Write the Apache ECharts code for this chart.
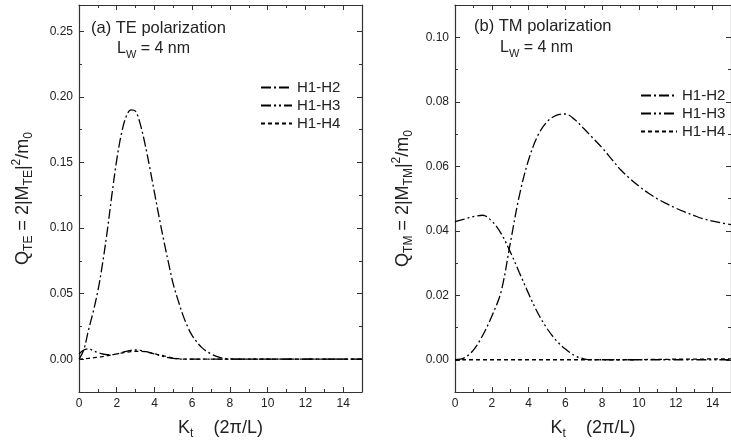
<!DOCTYPE html>
<html><head><meta charset="utf-8">
<script src="https://cdn.jsdelivr.net/npm/echarts@6/dist/echarts.min.js"></script>
<style>html,body{margin:0;padding:0;background:#fff}#c{width:731px;height:448px}</style>
</head><body><div id="c"></div>
<script>
// ---------------- data ----------------
const seriesNames = ['H1-H2', 'H1-H3', 'H1-H4'];

// (a) TE polarization
const kTE   = [0,0.25,0.5,0.75,1,1.25,1.5,1.75,2,2.25,2.5,2.75,3,3.25,3.5,3.75,4,4.25,4.5,4.75,5,5.25,5.5,5.75,6,6.5,7,7.5,8,9,10,11,12,13,14,15];
const teH12 = [0,0.007,0.022,0.036,0.052,0.073,0.098,0.126,0.152,0.172,0.185,0.190,0.189,0.179,0.164,0.146,0.127,0.108,0.090,0.073,0.057,0.045,0.034,0.025,0.018,0.009,0.004,0.0012,0.0002,0,0,0,0,0,0,0];
const teH13 = [0.004,0.007,0.008,0.0065,0.005,0.004,0.0035,0.0035,0.004,0.005,0.006,0.0068,0.007,0.0068,0.006,0.005,0.004,0.003,0.002,0.0012,0.0006,0.0002,0,0,0,0,0,0,0,0,0,0,0,0,0,0];
const teH14 = [0,0.0002,0.0006,0.001,0.0015,0.002,0.0027,0.0033,0.004,0.0047,0.0053,0.0058,0.006,0.006,0.0057,0.005,0.0042,0.0034,0.0025,0.0017,0.001,0.0004,0.0001,0,0,0,0,0,0,0,0,0,0,0,0,0];

// (b) TM polarization
const kTM   = [0,0.5,1,1.5,2,2.5,3,3.5,4,4.5,5,5.5,6,6.5,7,7.5,8,8.5,9,9.5,10,10.5,11,11.5,12,12.5,13,13.5,14,14.5,15];
const tmH12 = [0,0.0006,0.003,0.0075,0.0135,0.021,0.036,0.051,0.062,0.0695,0.0738,0.0758,0.0762,0.0745,0.0717,0.0687,0.0657,0.0623,0.0589,0.0562,0.0538,0.0517,0.0499,0.0484,0.0470,0.0458,0.0447,0.0437,0.0430,0.0424,0.0419];
const tmH13 = [0.0428,0.0436,0.0444,0.0448,0.043,0.0392,0.0335,0.027,0.0205,0.0145,0.0097,0.006,0.0033,0.0013,0.0003,0,0,0,0,0,0,0,0,0,0,0,0,0,0,0,0];
const tmH14 = [0,0,0,0,0,0,0,0,0,0,0,0,0,0,0,0,0,0,0,0,0,0.0001,0.0001,0.0001,0.0002,0.0002,0.0002,0.0002,0.0003,0.0003,0.0003];

// ticks
const xMajorTicks = [0,2,4,6,8,10,12,14];
const xMinorTicks = [1,3,5,7,9,11,13];
const teYMajor = [0,0.05,0.10,0.15,0.20,0.25];
const teYMinor = [0.025,0.075,0.125,0.175,0.225];
const tmYMajor = [0,0.02,0.04,0.06,0.08,0.10];
const tmYMinor = [0.01,0.03,0.05,0.07,0.09];

// ---------------- chart ----------------
const FONT = 'Liberation Sans, Arial, sans-serif';
const INK = '#222';
const dashes = [[10,3,2,3],[10,3,2,3,2,3],[4,3]];

function pairs(xs, ys){ return xs.map((x,i)=>[x, ys[i]]); }

const richName = {
  b: {fontSize: 18, fontFamily: FONT, color: INK, lineHeight: 24, fontWeight: 'normal'},
  s: {fontSize: 12, fontFamily: FONT, color: INK, lineHeight: 12, verticalAlign: 'bottom', fontWeight: 'normal'},
  p: {fontSize: 12, fontFamily: FONT, color: INK, lineHeight: 12, verticalAlign: 'top', fontWeight: 'normal'}
};
const richTitle = {
  b: {fontSize: 16, fontFamily: FONT, color: INK, lineHeight: 22, fontWeight: 'normal'},
  s: {fontSize: 11, fontFamily: FONT, color: INK, lineHeight: 11, verticalAlign: 'bottom', fontWeight: 'normal'}
};

function axis(kind, pos, grid, min, max, ticks, len, opts){
  const a = {
    type: 'value', gridIndex: grid, position: pos, min: min, max: max,
    axisLine: {show: !!(opts && opts.line), onZero: false, lineStyle: {color: '#333', width: 1.2}},
    axisTick: {show: true, inside: true, length: len, customValues: ticks, lineStyle: {color: '#333', width: 1}},
    axisLabel: {show: false},
    splitLine: {show: false}
  };
  if (opts && opts.labels) {
    a.axisLabel = {show: true, customValues: ticks, margin: 6, fontSize: 12, fontFamily: FONT, color: INK,
      formatter: opts.fmt};
  }
  if (opts && opts.name) {
    a.name = opts.name; a.nameLocation = 'middle'; a.nameGap = opts.gap;
    if (kind === 'y') a.nameRotate = 90;
    a.nameTextStyle = {rich: richName, fontSize: 18, fontFamily: FONT, color: INK};
  }
  return a;
}

function xAxes(grid){
  return [
    axis('x','bottom',grid,0,15,xMajorTicks,5,{line:true,labels:true,fmt:v=>String(v),
      name:'{b|K}{s|t}{b|    (2π/L)}', gap: 24}),
    axis('x','bottom',grid,0,15,xMinorTicks,3),
    axis('x','top',grid,0,15,xMajorTicks,5,{line:true}),
    axis('x','top',grid,0,15,xMinorTicks,3)
  ];
}
function yAxes(grid,min,max,maj,min2,name,gap){
  return [
    axis('y','left',grid,min,max,maj,5,{line:true,labels:true,fmt:v=>v.toFixed(2),name:name,gap:gap}),
    axis('y','left',grid,min,max,min2,3),
    axis('y','right',grid,min,max,maj,5,{line:true}),
    axis('y','right',grid,min,max,min2,3)
  ];
}

const series = [];
[[kTE,[teH12,teH13,teH14],0],[kTM,[tmH12,tmH13,tmH14],4]].forEach(([xs,ys,ai])=>{
  ys.forEach((y,i)=>{
    series.push({
      type:'line', name: seriesNames[i], xAxisIndex: ai, yAxisIndex: ai,
      data: pairs(xs,y), symbol:'none', smooth: 0.35, animation:false,
      lineStyle:{color:'#000', width:1.3, type: dashes[i]}, itemStyle:{color:'#000'}
    });
  });
});

const legendBase = {
  orient:'vertical', padding:0, itemGap:3, itemHeight:12,
  itemStyle:{opacity:0},
  textStyle:{fontSize:15, fontFamily:FONT, color:INK, lineHeight:15},
  data: seriesNames, selectedMode:false
};

const option = {
  backgroundColor:'#fff',
  animation:false,
  title: [
    {text:'(a) TE polarization', left:91, top:20, padding:0, textStyle:{fontSize:16.5, fontWeight:'normal', fontFamily:FONT, color:INK}},
    {text:'{b|L}{s|W}{b| = 4 nm}', left:117, top:38, padding:0, textStyle:{fontWeight:'normal', rich:richTitle}},
    {text:'(b) TM polarization', left:474, top:18, padding:0, textStyle:{fontSize:16.5, fontWeight:'normal', fontFamily:FONT, color:INK}},
    {text:'{b|L}{s|W}{b| = 4 nm}', left:500, top:37, padding:0, textStyle:{fontWeight:'normal', rich:richTitle}}
  ],
  legend: [
    Object.assign({}, legendBase, {left:260, top:80, itemWidth:31}),
    Object.assign({}, legendBase, {left:640, top:88, itemWidth:36})
  ],
  grid: [
    {left:79, right:369, top:5, bottom:56},
    {left:455, right:-6, top:5, bottom:56}
  ],
  xAxis: [].concat(xAxes(0), xAxes(1)),
  yAxis: [].concat(
    yAxes(0,-0.025,0.27,teYMajor,teYMinor,'{b|Q}{s|TE}{b| = 2|M}{s|TE}{b||}{p|2}{b|/m}{s|0}',44),
    yAxes(1,-0.01,0.11,tmYMajor,tmYMinor,'{b|Q}{s|TM}{b| = 2|M}{s|TM}{b||}{p|2}{b|/m}{s|0}',40)
  ),
  series: series
};

const chart = echarts.init(document.getElementById('c'), null, {renderer:'canvas'});
chart.setOption(option);
</script>
</body></html>
